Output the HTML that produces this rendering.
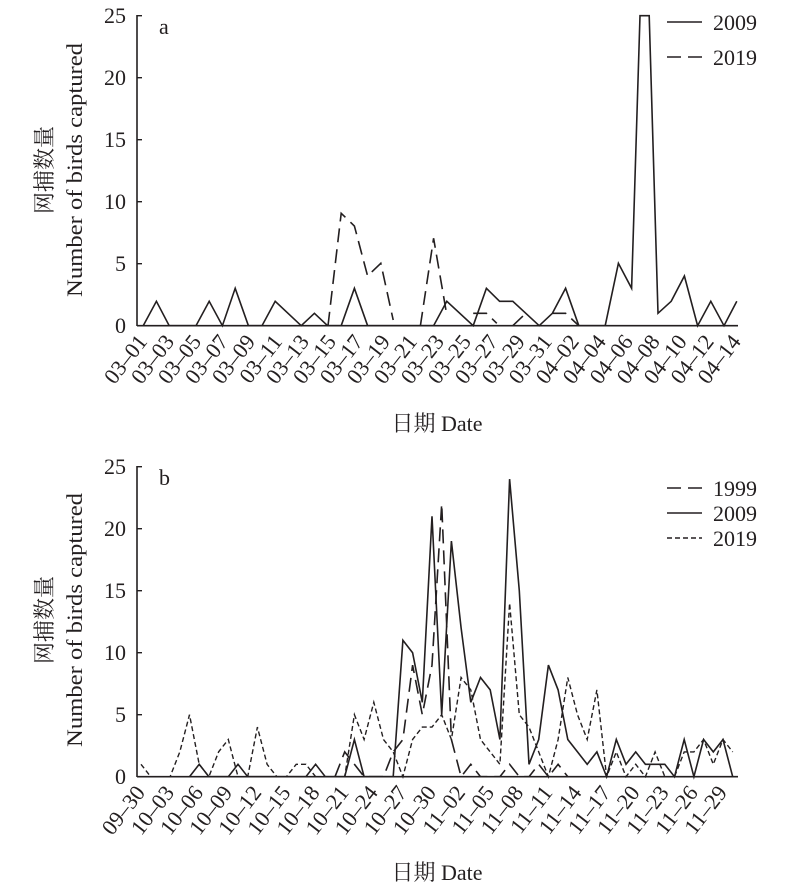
<!DOCTYPE html>
<html><head><meta charset="utf-8"><style>
html,body{margin:0;padding:0;background:#fff;}
svg{display:block;font-family:"Liberation Serif","Noto Serif CJK SC",serif;}
</style></head><body>
<svg id="s" width="800" height="888" viewBox="0 0 800 888" xmlns="http://www.w3.org/2000/svg">
<g fill="#231f20" font-size="22">
<!-- panel a axes -->
<line x1="137" y1="15" x2="137" y2="326" stroke="#231f20" stroke-width="1.6"/>
<line x1="137" y1="325.7" x2="738" y2="325.7" stroke="#231f20" stroke-width="1.6"/>
<g stroke="#231f20" stroke-width="1.4">
<line x1="137" y1="15.7" x2="142" y2="15.7"/><line x1="137" y1="77.7" x2="142" y2="77.7"/><line x1="137" y1="139.7" x2="142" y2="139.7"/><line x1="137" y1="201.7" x2="142" y2="201.7"/><line x1="137" y1="263.7" x2="142" y2="263.7"/>
</g>
<g text-anchor="end">
<text x="126" y="23">25</text><text x="126" y="85">20</text><text x="126" y="147">15</text><text x="126" y="209">10</text><text x="126" y="271">5</text><text x="126" y="333">0</text>
</g>
<text x="159" y="34">a</text>
<line x1="667" y1="22" x2="702" y2="22" stroke="#231f20" stroke-width="1.6"/>
<text x="713" y="30">2009</text>
<line x1="667" y1="57" x2="702" y2="57" stroke="#231f20" stroke-width="1.6" stroke-dasharray="14,7"/>
<text x="713" y="65">2019</text>
<g transform="translate(52,170) rotate(-90)" text-anchor="middle"><text x="0" y="0">网捕数量</text></g>
<g transform="translate(82,170) rotate(-90)" text-anchor="middle"><text x="0" y="0" textLength="254" lengthAdjust="spacingAndGlyphs">Number of birds captured</text></g>
<text x="437" y="431" text-anchor="middle">日期 Date</text>
<g id="xa" text-anchor="end"></g>

<!-- panel b axes -->
<line x1="137" y1="466" x2="137" y2="777" stroke="#231f20" stroke-width="1.6"/>
<line x1="137" y1="776.7" x2="738" y2="776.7" stroke="#231f20" stroke-width="1.6"/>
<g stroke="#231f20" stroke-width="1.4">
<line x1="137" y1="466.7" x2="142" y2="466.7"/><line x1="137" y1="528.7" x2="142" y2="528.7"/><line x1="137" y1="590.7" x2="142" y2="590.7"/><line x1="137" y1="652.7" x2="142" y2="652.7"/><line x1="137" y1="714.7" x2="142" y2="714.7"/>
</g>
<g text-anchor="end">
<text x="126" y="474">25</text><text x="126" y="536">20</text><text x="126" y="598">15</text><text x="126" y="660">10</text><text x="126" y="722">5</text><text x="126" y="784">0</text>
</g>
<text x="159" y="485">b</text>
<line x1="667" y1="488" x2="702" y2="488" stroke="#231f20" stroke-width="1.6" stroke-dasharray="14,7"/>
<text x="713" y="496">1999</text>
<line x1="667" y1="513" x2="702" y2="513" stroke="#231f20" stroke-width="1.6"/>
<text x="713" y="521">2009</text>
<line x1="667" y1="538" x2="702" y2="538" stroke="#231f20" stroke-width="1.4" stroke-dasharray="5,3"/>
<text x="713" y="546">2019</text>
<g transform="translate(52,620) rotate(-90)" text-anchor="middle"><text x="0" y="0">网捕数量</text></g>
<g transform="translate(82,620) rotate(-90)" text-anchor="middle"><text x="0" y="0" textLength="254" lengthAdjust="spacingAndGlyphs">Number of birds captured</text></g>
<text x="437" y="880" text-anchor="middle">日期 Date</text>
<g id="xb" text-anchor="end"></g>
<g id="lines" fill="none" stroke="#231f20" stroke-width="1.6" stroke-linejoin="miter"></g>
</g>
</svg>
<script>
var NS="http://www.w3.org/2000/svg";
function add(parent,tag,attrs,txt){var e=document.createElementNS(NS,tag);for(var k in attrs)e.setAttribute(k,attrs[k]);if(txt)e.textContent=txt;parent.appendChild(e);return e;}
var L=document.getElementById("lines");
function za(pts){return pts.map(function(p){var y=(p[1]==="T")?15.7:180+p[1]/3;return (130+p[0]/2.5).toFixed(1)+","+y.toFixed(1);}).join(" ");}
var a09=[[33,437],[66,364],[98,437],[165,437],[198,364],[231,437],[263,325],[296,437],[330,437],[363,364],[428,437],[461,400],[494,437],[528,437],[561,325],[594,437],[759,437],[792,364],[858,437],[891,325],[924,364],[957,364],[1023,437],[1056,400],[1089,325],[1122,437],[1188,437],[1221,250],[1254,325],[1275,"T"],[1298,"T"],[1320,400],[1353,364],[1386,288],[1419,437],[1452,364],[1485,437],[1517,364]];
add(L,"polyline",{points:za(a09)});
var a19=[[[495,437],[528,100],[561,138],[594,288],[627,250],[658,420]],[[726,437],[759,175],[792,405]],[[858,400],[891,400],[917,430]],[[957,437],[985,405]],[[1056,400],[1089,400],[1122,437]]];
a19.forEach(function(s){add(L,"polyline",{points:za(s),"stroke-dasharray":"14,7"});});
function xb(i){return 141+9.7*i;}function yb(v){return 776.7-12.4*v;}
function pb(vals){var o=[];vals.forEach(function(v,i){if(v!==null)o.push(xb(i).toFixed(1)+","+yb(v).toFixed(1));});return o.join(" ");}
var b19=[1,0,0,0,2,5,1,0,2,3,0,0,4,1,0,0,1,1,0,0,0,0,5,3,6,3,2,0,3,4,4,5,3,8,7,3,2,1,14,5,4,2,0,3,8,5,3,7,0,2,0,1,0,2,0,0,2,2,3,1,3,2];
var b09=[null,null,null,null,null,0,1,0,0,0,1,0,0,0,0,0,0,0,1,0,0,0,3,0,0,0,0,11,10,6,21,5,19,12,6,8,7,3,24,15,1,3,9,7,3,2,1,2,0,3,1,2,1,1,1,0,3,0,3,2,3,0];
var b99=[null,null,null,null,null,null,null,null,null,null,null,null,null,null,null,null,null,null,null,null,0,2,1,0,0,0,2,3,9,5,9,22,3,0,1,0,0,0,1,0,0,1,0,1,0,null,null,null,null,null,null,null,null,null,null,null,null,null,null,null,null,null];
add(L,"polyline",{points:pb(b09)});
add(L,"polyline",{points:pb(b99),"stroke-dasharray":"14,7"});
add(L,"polyline",{points:pb(b19),"stroke-dasharray":"5,3","stroke-width":"1.4"});
var ga=document.getElementById("xa");
for(var k=0;k<23;k++){var d=1+2*k,lab;if(d<=31)lab="03–"+(d<10?"0":"")+d;else{var e=d-31;lab="04–"+(e<10?"0":"")+e;}
var x=143.2+13.49*2*k+5,y=342;add(ga,"text",{transform:"translate("+x+","+y+") rotate(-52)"},lab);}
var gb=document.getElementById("xb");
for(var k=0;k<21;k++){var i=3*k,lab;if(i==0)lab="09–30";else if(i<=31){lab="10–"+(i<10?"0":"")+i;}else{var e=i-31;lab="11–"+(e<10?"0":"")+e;}
var x=xb(i)+5,y=793;add(gb,"text",{transform:"translate("+x+","+y+") rotate(-52)"},lab);}
</script>
</body></html>
